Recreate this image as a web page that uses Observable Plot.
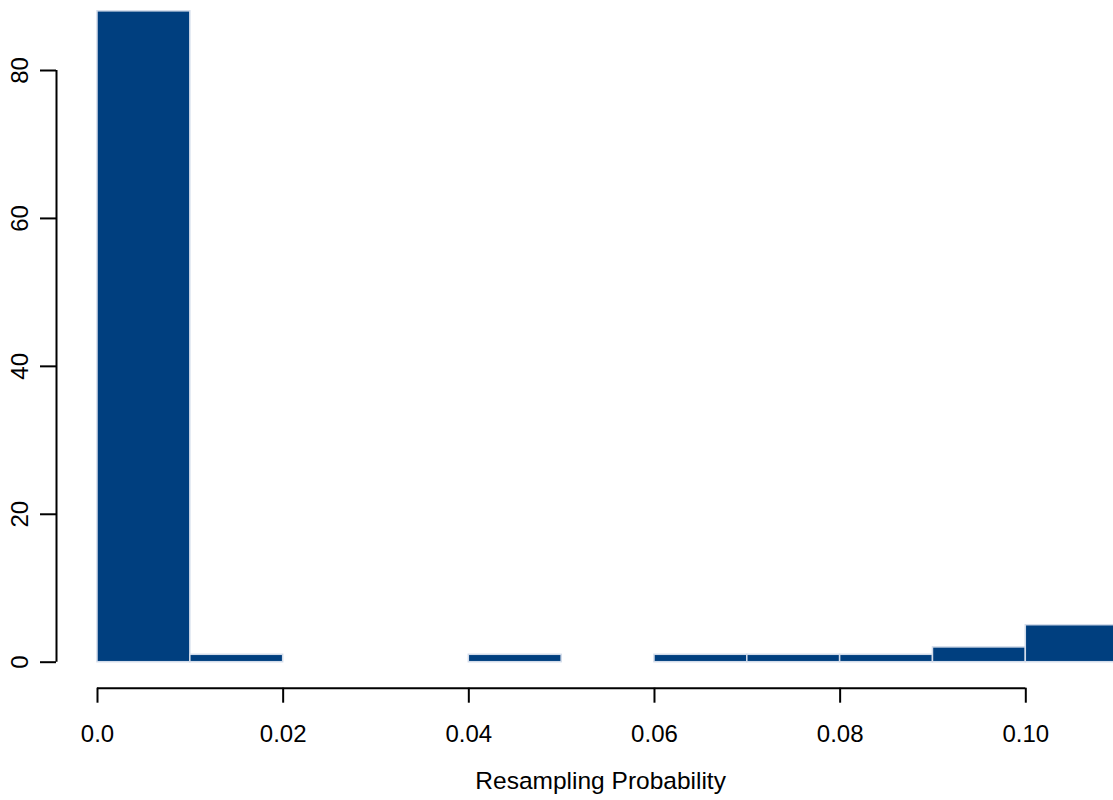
<!DOCTYPE html>
<html>
<head>
<meta charset="utf-8">
<script src="https://cdn.jsdelivr.net/npm/d3@7"></script>
<script src="https://cdn.jsdelivr.net/npm/@observablehq/plot@0.6"></script>
<style>
  html, body { margin: 0; padding: 0; background: white; }
  #chart svg { display: block; }
</style>
</head>
<body>
<div id="chart"></div>
<script>
const binStart = [0.00, 0.01, 0.02, 0.03, 0.04, 0.05, 0.06, 0.07, 0.08, 0.09, 0.10];
const binEnd   = [0.01, 0.02, 0.03, 0.04, 0.05, 0.06, 0.07, 0.08, 0.09, 0.10, 0.11];
const counts   = [88, 1, 0, 0, 1, 0, 1, 1, 1, 2, 5];
const xTicks = [0, 0.02, 0.04, 0.06, 0.08, 0.10];
const xTickLabels = ["0.0", "0.02", "0.04", "0.06", "0.08", "0.10"];
const yTicks = [0, 20, 40, 60, 80];
const xLabel = "Resampling Probability";

const bins = binStart.map((s, i) => ({x1: s, x2: binEnd[i], count: counts[i]}));

const chart = Plot.plot({
  width: 1113,
  height: 800,
  marginLeft: 97,
  marginRight: 87.7,
  marginTop: 70,
  marginBottom: 138.3,
  x: {domain: [xTicks[0], xTicks[xTicks.length - 1]], label: null},
  y: {domain: [yTicks[0], yTicks[yTicks.length - 1]], label: null},
  style: {fontFamily: "'Liberation Sans', Arial, sans-serif", fontSize: "24px", color: "black", background: "white", overflow: "visible"},
  marks: [
    Plot.rectY(bins, {x1: "x1", x2: "x2", y: "count", fill: "#003f7f", stroke: "#d3dcea", strokeWidth: 1.5}),
    // y axis
    Plot.ruleX([0], {x: () => xTicks[0], y1: () => yTicks[0], y2: () => yTicks[yTicks.length - 1], dx: -41, stroke: "black", strokeWidth: 2}),
    Plot.axisY({ticks: yTicks, tickSize: 16, dx: -41, tickFormat: () => "", label: null, strokeWidth: 2}),
    Plot.text(yTicks, {y: d => d, text: d => String(d), frameAnchor: "left", textAnchor: "middle", lineAnchor: "middle", rotate: -90, dx: -77, fontSize: 24, fill: "black"}),
    // x axis
    Plot.ruleY([0], {y: () => yTicks[0], x1: () => xTicks[0], x2: () => xTicks[xTicks.length - 1], dy: 26, stroke: "black", strokeWidth: 2}),
    Plot.axisX({ticks: xTicks, tickSize: 15, dy: 26, tickFormat: () => "", label: null, strokeWidth: 2}),
    Plot.text(xTicks, {x: d => d, text: (d, i) => xTickLabels[i], frameAnchor: "bottom", lineAnchor: "middle", dy: 72, fontSize: 24, fill: "black"}),
    Plot.text([xLabel], {text: d => d, frameAnchor: "bottom", textAnchor: "middle", lineAnchor: "middle", dx: 39, dy: 119, fontSize: 24.5, fill: "black"})
  ]
});
document.getElementById("chart").append(chart);
</script>
</body>
</html>
